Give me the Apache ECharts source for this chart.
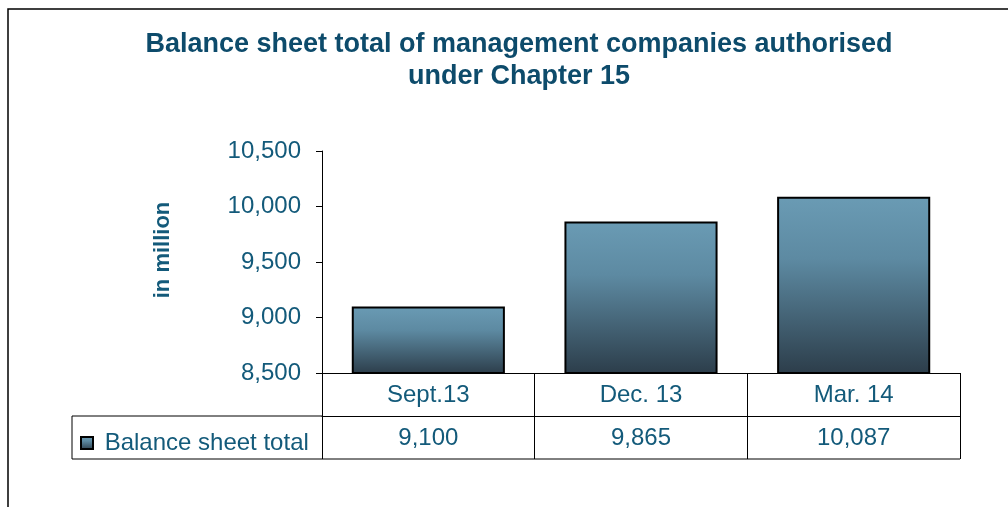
<!DOCTYPE html>
<html>
<head>
<meta charset="utf-8">
<script src="https://cdn.jsdelivr.net/npm/echarts@6/dist/echarts.min.js"></script>
<style>
  html, body { margin: 0; padding: 0; background: #fff; }
  #main { width: 1008px; height: 507px; }
</style>
</head>
<body>
<div id="main"></div>
<script>
// chart data
const categories = ['Sept.13', 'Dec. 13', 'Mar. 14'];
const balanceTotals = [9100, 9865, 10087];
const seriesName = 'Balance sheet total';
const yTicks = [8500, 9000, 9500, 10000, 10500];

const textColor = '#135a7a';
const titleColor = '#0d4b6b';
const fontFamily = '"Liberation Sans", Arial, sans-serif';

// layout of plot + table
const plotLeft = 322, plotRight = 960, plotTop = 151, plotBottom = 373;
const rowH = 43;
const tableLeft = 72;

const fmt = v => v.toLocaleString('en-US');

const myChart = echarts.init(document.getElementById('main'));

myChart.setOption({
  animation: false,
  textStyle: { fontFamily: fontFamily },
  title: {
    text: 'Balance sheet total of management companies authorised\nunder Chapter 15',
    left: 514,
    top: 24,
    textAlign: 'center',
    textStyle: {
      color: titleColor,
      fontSize: 27,
      fontWeight: 'bold',
      lineHeight: 32,
      fontFamily: fontFamily
    }
  },
  grid: {
    left: plotLeft,
    top: plotTop,
    width: plotRight - plotLeft,
    height: plotBottom - plotTop
  },
  legend: {
    data: [seriesName],
    left: tableLeft + 3,
    top: plotBottom + rowH + 10,
    icon: 'rect',
    itemWidth: 12,
    itemHeight: 12,
    formatter: name => ' ' + name,
    textStyle: { color: textColor, fontSize: 24, fontFamily: fontFamily }
  },
  xAxis: [{
    type: 'category',
    data: categories,
    position: 'bottom',
    axisLine: { lineStyle: { color: '#000', width: 1 } },
    axisTick: { show: true, length: rowH * 2, lineStyle: { color: '#000' } },
    axisLabel: { color: textColor, fontSize: 24, margin: 10, interval: 0 }
  }, {
    type: 'category',
    data: balanceTotals.map(fmt),
    position: 'bottom',
    offset: rowH,
    axisLine: { lineStyle: { color: '#000', width: 1 } },
    axisTick: { show: false },
    axisLabel: { color: textColor, fontSize: 24, margin: 10, interval: 0 }
  }],
  yAxis: {
    type: 'value',
    min: yTicks[0],
    max: yTicks[yTicks.length - 1],
    interval: 500,
    name: 'in million',
    nameLocation: 'middle',
    nameRotate: 90,
    nameGap: 148,
    nameTextStyle: {
      color: textColor, fontSize: 22, fontWeight: 'bold', fontFamily: fontFamily,
      padding: [0, 0, 0, 24]
    },
    axisLine: { show: true, lineStyle: { color: '#000', width: 1 } },
    axisTick: { show: true, length: 6, lineStyle: { color: '#000' } },
    splitLine: { show: false },
    axisLabel: { color: textColor, fontSize: 24, margin: 21, formatter: v => fmt(v) }
  },
  series: [{
    name: seriesName,
    type: 'bar',
    data: balanceTotals,
    barCategoryGap: '28%',
    itemStyle: {
      borderColor: '#000',
      borderWidth: 2,
      color: new echarts.graphic.LinearGradient(0, 0, 0, 1, [
        { offset: 0, color: '#6a9bb4' },
        { offset: 0.35, color: '#5d8aa2' },
        { offset: 1, color: '#2c3d4a' }
      ])
    }
  }],
  graphic: [
    // outer frame
    { type: 'rect', shape: { x: 8, y: 9, width: 1100, height: 600 },
      style: { fill: 'none', stroke: '#000', lineWidth: 1.5 }, silent: true, z: -1 },
    // table lines for the legend column
    { type: 'line', shape: { x1: tableLeft, y1: plotBottom + rowH, x2: plotLeft, y2: plotBottom + rowH },
      style: { stroke: '#000', lineWidth: 1 } },
    { type: 'line', shape: { x1: tableLeft, y1: plotBottom + rowH * 2, x2: plotRight, y2: plotBottom + rowH * 2 },
      style: { stroke: '#000', lineWidth: 1 } },
    { type: 'line', shape: { x1: tableLeft, y1: plotBottom + rowH, x2: tableLeft, y2: plotBottom + rowH * 2 },
      style: { stroke: '#000', lineWidth: 1 } }
  ]
});
</script>
</body>
</html>
